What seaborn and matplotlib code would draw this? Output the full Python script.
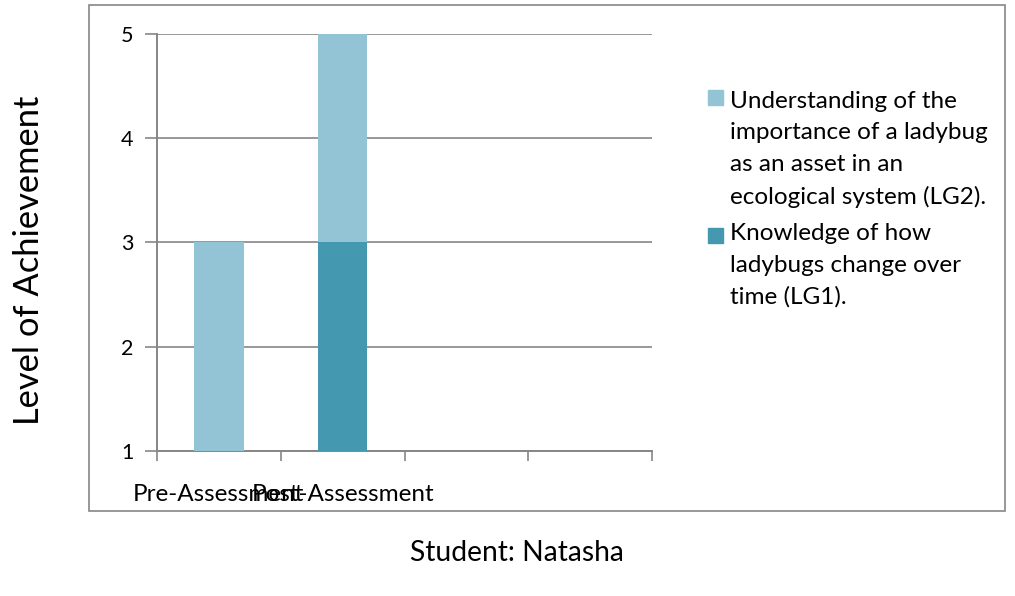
import matplotlib
matplotlib.use("Agg")
import matplotlib.pyplot as plt
import matplotlib.patches as mpatches
import pandas as pd
import seaborn as sns

# chart data
assessments = ["Pre-Assessment", "Post-Assessment"]
lg1_knowledge = [1, 3]       # Knowledge of how ladybugs change over time (LG1)
lg2_understanding = [2, 2]   # Understanding of the importance of a ladybug (LG2)
y_ticks = [1, 2, 3, 4, 5]
n_slots = 4

lg1_label = "Knowledge of how\nladybugs change over\ntime (LG1)."
lg2_label = "Understanding of the\nimportance of a ladybug\nas an asset in an\necological system (LG2)."

light = "#93c4d6"
dark = "#4498b0"
grey = "#868686"

sns.set_style("white")
plt.rcParams["font.family"] = ["Lato", "DejaVu Sans"]
plt.rcParams["text.color"] = "black"
plt.rcParams["xtick.color"] = "black"
plt.rcParams["ytick.color"] = "black"

df = pd.DataFrame({
    "assessment": assessments,
    "lg1": lg1_knowledge,
    "lg2": lg2_understanding,
})
df["total"] = df["lg1"] + df["lg2"]

fig = plt.figure(figsize=(10.15, 5.96), dpi=100)
ax = fig.add_axes([0.1547, 0.2433, 0.4877, 0.6997])

# stacked bars: total first, then the lower series over it
sns.barplot(data=df, x="assessment", y="total", color=light, width=0.4,
            saturation=1, linewidth=0, edgecolor="none", ax=ax, zorder=3)
sns.barplot(data=df, x="assessment", y="lg1", color=dark, width=0.4,
            saturation=1, linewidth=0, edgecolor="none", ax=ax, zorder=3)

ax.set_xlim(-0.5, n_slots - 0.5)
ax.set_ylim(y_ticks[0], y_ticks[-1])
ax.set_yticks(y_ticks)
ax.yaxis.grid(True, color=grey, linewidth=1.2, zorder=0)
ax.set_axisbelow(True)

ax.set_xticks([i - 0.5 for i in range(n_slots + 1)])
ax.set_xticklabels([])
ax.set_xticks(range(len(assessments)), minor=True)
ax.set_xticklabels(assessments, minor=True)
ax.tick_params(axis="x", which="minor", bottom=True, length=0, pad=24, labelsize=17.5,
               labelcolor="black")
ax.tick_params(axis="x", which="major", bottom=True, length=7, width=1.2, color=grey,
               direction="out")
ax.tick_params(axis="y", left=True, length=9, width=1.2, color=grey, direction="out",
               pad=8, labelsize=15.5, labelcolor="black")

for side in ["top", "right"]:
    ax.spines[side].set_visible(False)
for side in ["left", "bottom"]:
    ax.spines[side].set_color(grey)
    ax.spines[side].set_linewidth(1.4)

ax.set_xlabel("")
ax.set_ylabel("")
fig.text(0.029, 0.564, "Level of Achievement", rotation=90, ha="center", va="center",
         fontsize=24.8)
fig.text(0.509, 0.072, "Student: Natasha", ha="center", va="center", fontsize=20.3)

# outer chart frame
frame = mpatches.Rectangle((0.0877, 0.1426), 0.9025, 0.849, transform=fig.transFigure,
                           fill=False, edgecolor=grey, linewidth=1.2)
fig.patches.append(frame)

# legend, markers aligned with the first line of each entry
legend_items = [(lg2_label, light, 0.847, 0.8238), (lg1_label, dark, 0.625, 0.5923)]
for label, color, text_y, box_y in legend_items:
    fig.patches.append(mpatches.Rectangle((0.6975, box_y), 0.0148, 0.0252,
                                          transform=fig.transFigure, color=color))
    fig.text(0.7192, text_y, label, ha="left", va="top", fontsize=17.5, linespacing=1.6)

fig.savefig("out.png", dpi=100)
